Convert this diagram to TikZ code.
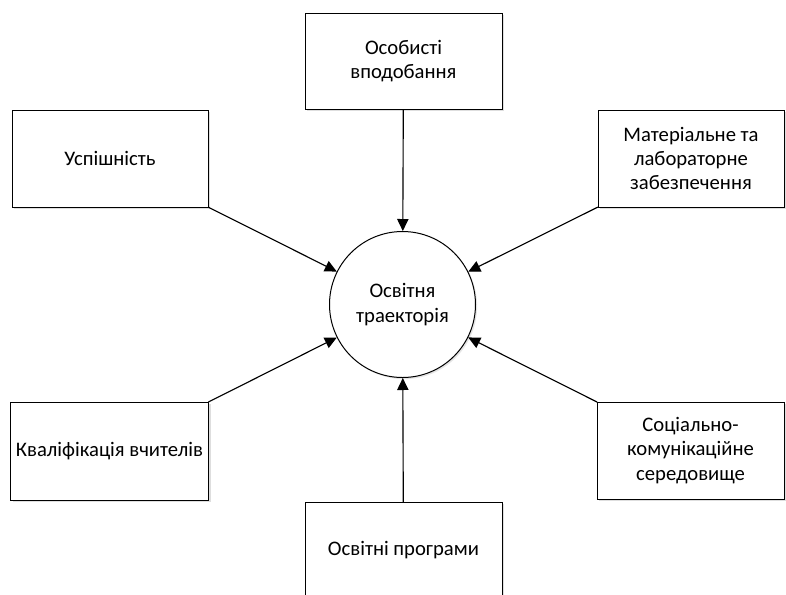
\documentclass[tikz,border=0pt]{standalone}
\usepackage{fontspec}
\setmainfont{Carlito}
\usetikzlibrary{shapes}
\usetikzlibrary{arrows.meta}
\usetikzlibrary{positioning}
\usetikzlibrary{shadows}
\tikzstyle{bloc}=[
        rectangle,
        draw,
        line width=0.75pt,
        fill=white,
        align=center,
        inner sep=4pt,
        outer sep=0pt,
        font=\fontsize{15.5}{18.3}\selectfont,
        drop shadow={shadow xshift=1.6pt,shadow yshift=-1.6pt,fill=black!13,opacity=1}
]
\tikzstyle{centre}=[circle,draw,line width=0.75pt,fill=white,minimum size=109.5pt,inner sep=0pt,
align=center,font=\fontsize{15.5}{18.3}\selectfont,
drop shadow={shadow xshift=1.2pt,shadow yshift=-1.2pt,fill=black!10,opacity=1}]
\tikzstyle{fleche}=[-{Triangle[length=9pt,width=8.5pt]},line width=0.85pt]

\begin{document}
\begin{tikzpicture}[x=0.75pt,y=-0.75pt]
\path[use as bounding box,clip] (0,0) rectangle (786,594);
\fill[white] (0,0) rectangle (786,594);
\node[centre] (traj) at (402.5,304.5) {Освітня\\траекторія};
\node[bloc,minimum width=147.75pt,minimum height=72pt] (vpod) at (403.5,61) {Особисті\\вподобання};
\node[bloc,minimum width=147pt,minimum height=72.75pt] (usp) at (110,158.5) {Успішність};
\node[bloc,minimum width=139.5pt,minimum height=72.75pt] (mat) at (691,158.5) {Матеріальне та\\лабораторне\\забезпечення};
\node[bloc,minimum width=146.25pt,minimum height=73.5pt] (kval) at (109.5,451) {Кваліфікація вчителів};
\node[bloc,minimum width=140.25pt,minimum height=72.75pt] (soc) at (690.5,450.5) {Соціально-\\комунікаційне\\середовище};
\node[bloc,minimum width=147.75pt,minimum height=72.75pt] (prog) at (403.5,550.5) {Освітні програми};
%Drawing Edges
\draw[fleche] (vpod) -- (traj);
\draw[fleche] (usp.south east) -- (traj);
\draw[fleche] (mat.south west) -- (traj);
\draw[fleche] (kval.north east) -- (traj);
\draw[fleche] (soc.north west) -- (traj);
\draw[fleche] (prog) -- (traj);
\end{tikzpicture}
\end{document}
